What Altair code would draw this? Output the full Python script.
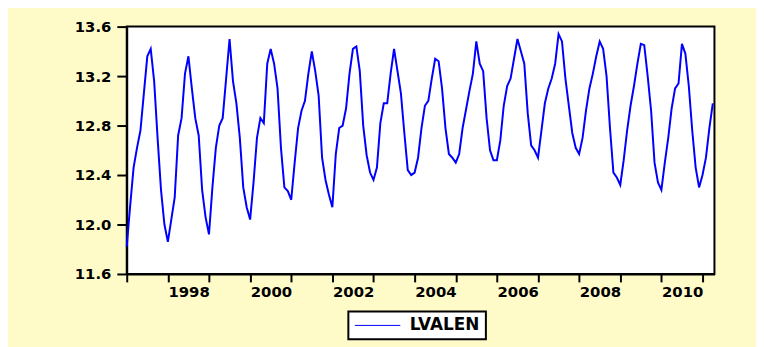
import altair as alt
import pandas as pd

series_name = "LVALEN"
start_year = 1997

# Monthly values, Jan..Dec per year
y1997 = [11.82, 12.15, 12.46, 12.62, 12.76, 13.06, 13.36, 13.42, 13.16, 12.70, 12.28, 12.00]
y1998 = [11.86, 12.04, 12.22, 12.72, 12.86, 13.22, 13.36, 13.10, 12.86, 12.72, 12.28, 12.06]
y1999 = [11.92, 12.30, 12.62, 12.80, 12.86, 13.18, 13.50, 13.16, 12.98, 12.70, 12.30, 12.14]
y2000 = [12.04, 12.34, 12.70, 12.86, 12.82, 13.30, 13.42, 13.30, 13.10, 12.62, 12.30, 12.27]
y2001 = [12.20, 12.50, 12.78, 12.92, 13.00, 13.22, 13.40, 13.24, 13.04, 12.54, 12.36, 12.24]
y2002 = [12.14, 12.57, 12.78, 12.80, 12.94, 13.22, 13.42, 13.44, 13.24, 12.80, 12.56, 12.42]
y2003 = [12.36, 12.46, 12.82, 12.98, 12.98, 13.22, 13.42, 13.24, 13.06, 12.74, 12.44, 12.40]
y2004 = [12.42, 12.54, 12.78, 12.96, 13.00, 13.18, 13.34, 13.32, 13.10, 12.78, 12.57, 12.54]
y2005 = [12.50, 12.57, 12.78, 12.93, 13.08, 13.22, 13.48, 13.30, 13.24, 12.86, 12.60, 12.52]
y2006 = [12.52, 12.68, 12.96, 13.12, 13.18, 13.34, 13.50, 13.40, 13.30, 12.90, 12.64, 12.60]
y2007 = [12.54, 12.76, 12.98, 13.10, 13.18, 13.30, 13.54, 13.48, 13.18, 12.96, 12.74, 12.62]
y2008 = [12.57, 12.70, 12.92, 13.10, 13.22, 13.36, 13.48, 13.42, 13.20, 12.78, 12.42, 12.38]
y2009 = [12.32, 12.52, 12.76, 12.96, 13.12, 13.30, 13.46, 13.45, 13.20, 12.92, 12.50, 12.34]
y2010 = [12.28, 12.50, 12.70, 12.94, 13.10, 13.14, 13.46, 13.38, 13.12, 12.76, 12.46, 12.30]
y2011 = [12.40, 12.54, 12.78, 12.98]

y_ticks = [11.6, 12.0, 12.4, 12.8, 13.2, 13.6]
x_ticks = list(range(1997, 2012))

values = (y1997 + y1998 + y1999 + y2000 + y2001 + y2002 + y2003 + y2004
          + y2005 + y2006 + y2007 + y2008 + y2009 + y2010 + y2011)
df = pd.DataFrame({
    "t": [start_year + i / 12 for i in range(len(values))],
    "v": values,
    "series": [series_name] * len(values),
})

FONT = "DejaVu Sans"

chart = alt.Chart(df).mark_line(strokeWidth=2).encode(
    x=alt.X("t:Q",
            scale=alt.Scale(domain=[1997, 2011.29], nice=False, zero=False),
            axis=alt.Axis(values=x_ticks, title=None, grid=False, format="d",
                          labelExpr="datum.value % 2 == 0 ? datum.label : ''",
                          labelOffset=21, labelFlush=False, labelOverlap=False,
                          tickSize=8, labelPadding=3)),
    y=alt.Y("v:Q",
            scale=alt.Scale(domain=[11.6, 13.6], nice=False, zero=False),
            axis=alt.Axis(values=y_ticks, title=None, grid=False, format=".1f",
                          tickSize=10, labelPadding=6)),
    color=alt.Color("series:N",
                    scale=alt.Scale(domain=[series_name], range=["#0000FF"]),
                    legend=alt.Legend(title=None, orient="none", legendX=224, legendY=288,
                                      symbolType="stroke", symbolSize=2116,
                                      clipHeight=16,
                                      symbolStrokeWidth=1, labelFont=FONT,
                                      labelFontSize=17, labelFontWeight="bold",
                                      labelColor="#000000", labelOffset=9,
                                      padding=6, strokeColor="#000000",
                                      fillColor="#FFFFFF")),
).properties(
    width=594, height=250,
    padding={"left": 120, "top": 17, "right": 42, "bottom": 72},
    autosize=alt.AutoSizeParams(type="none"),
    background="#FFFBC8",
).configure_view(
    stroke="#000000", strokeWidth=2, fill="#FFFFFF"
).configure_axis(
    labelFont=FONT, labelFontSize=15, labelFontWeight="bold", labelColor="#000000",
    domainColor="#000000", domainWidth=2, tickColor="#000000", tickWidth=2,
).configure_legend(
    strokeWidth=2
)

chart.save("out.html", embed_options={"renderer": "svg", "actions": False})
